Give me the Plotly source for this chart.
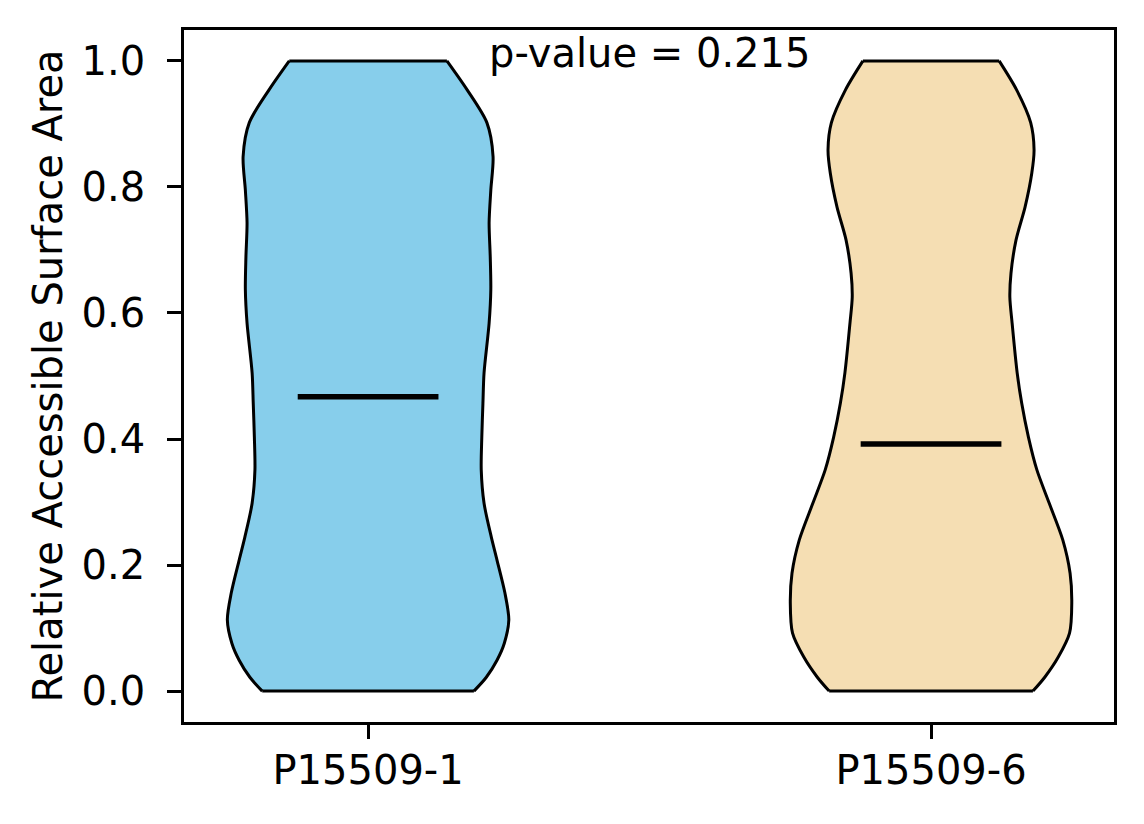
import plotly.graph_objects as go

# group names and where they sit on the x axis
categories = ["P15509-1", "P15509-6"]
positions = [1, 2]
fill_colors = ["#87CEEB", "#F5DEB3"]

# violin outlines: RSA level and half width of the density
rsa_levels_1 = [0.0, 0.022, 0.049, 0.076, 0.113, 0.156, 0.208, 0.244, 0.298, 0.351, 0.403, 0.457,
                0.505, 0.584, 0.637, 0.689, 0.743, 0.795, 0.848, 0.902, 0.954, 1.0]
half_width_1 = [0.188, 0.210, 0.229, 0.242, 0.250, 0.243, 0.229, 0.219, 0.206, 0.201, 0.202, 0.204,
                0.206, 0.215, 0.218, 0.217, 0.215, 0.218, 0.222, 0.211, 0.176, 0.140]

rsa_levels_2 = [0.0, 0.022, 0.054, 0.092, 0.140, 0.187, 0.240, 0.298, 0.351, 0.403, 0.457, 0.505,
                0.584, 0.625, 0.663, 0.716, 0.768, 0.822, 0.859, 0.902, 0.954, 1.0]
half_width_2 = [0.181, 0.202, 0.226, 0.246, 0.250, 0.247, 0.234, 0.210, 0.188, 0.173, 0.161, 0.153,
                0.144, 0.140, 0.142, 0.151, 0.167, 0.179, 0.183, 0.177, 0.152, 0.121]

medians = [0.467, 0.392]
p_value = 0.215

outlines = [(rsa_levels_1, half_width_1), (rsa_levels_2, half_width_2)]

fig = go.Figure()

side_line = dict(color="black", width=3, shape="spline", smoothing=0.8)

for pos, color, (levels, hw) in zip(positions, fill_colors, outlines):
    # left edge, then right edge filled back to it
    fig.add_trace(go.Scatter(
        x=[pos - w for w in hw], y=levels,
        mode="lines", line=side_line,
        hoverinfo="skip", showlegend=False,
    ))
    fig.add_trace(go.Scatter(
        x=[pos + w for w in hw], y=levels,
        mode="lines", line=side_line,
        fill="tonextx", fillcolor=color,
        hoverinfo="skip", showlegend=False,
    ))
    # flat ends at the min and max of the data
    fig.add_trace(go.Scatter(
        x=[pos - hw[0], pos + hw[0], None, pos - hw[-1], pos + hw[-1]],
        y=[levels[0], levels[0], None, levels[-1], levels[-1]],
        mode="lines", line=dict(color="black", width=3),
        hoverinfo="skip", showlegend=False,
    ))

for pos, med in zip(positions, medians):
    fig.add_trace(go.Scatter(
        x=[pos - 0.125, pos + 0.125], y=[med, med],
        mode="lines",
        line=dict(color="black", width=5.5),
        hoverinfo="skip",
        showlegend=False,
    ))

fig.add_annotation(
    x=1.5, y=1.012, xref="x", yref="y",
    text="p-value = %.3f" % p_value,
    showarrow=False,
    xanchor="center", yanchor="middle",
    font=dict(size=40, color="black"),
)

axis_style = dict(
    showline=True, linecolor="black", linewidth=2.8, mirror=True,
    ticks="outside", ticklen=14, tickwidth=2.8, tickcolor="black",
    showgrid=False, zeroline=False,
    tickfont=dict(size=40, color="black"),
)

fig.update_xaxes(
    range=[0.673, 2.325],
    tickvals=positions, ticktext=categories,
    ticklabelstandoff=-3,
    **axis_style,
)
fig.update_yaxes(
    range=[-0.049, 1.049],
    tickvals=[0.0, 0.2, 0.4, 0.6, 0.8, 1.0],
    tickformat=".1f",
    ticklabelstandoff=14,
    title=dict(text="Relative Accessible Surface Area", font=dict(size=40, color="black"), standoff=7),
    **axis_style,
)

# page body adds an 8px offset, so the figure is drawn 8px smaller
fig.update_layout(
    width=1136, height=816,
    margin=dict(l=176, r=30, t=22, b=102),
    plot_bgcolor="white",
    paper_bgcolor="white",
    font=dict(family="DejaVu Sans", color="black"),
)

fig.write_html("out.html")
